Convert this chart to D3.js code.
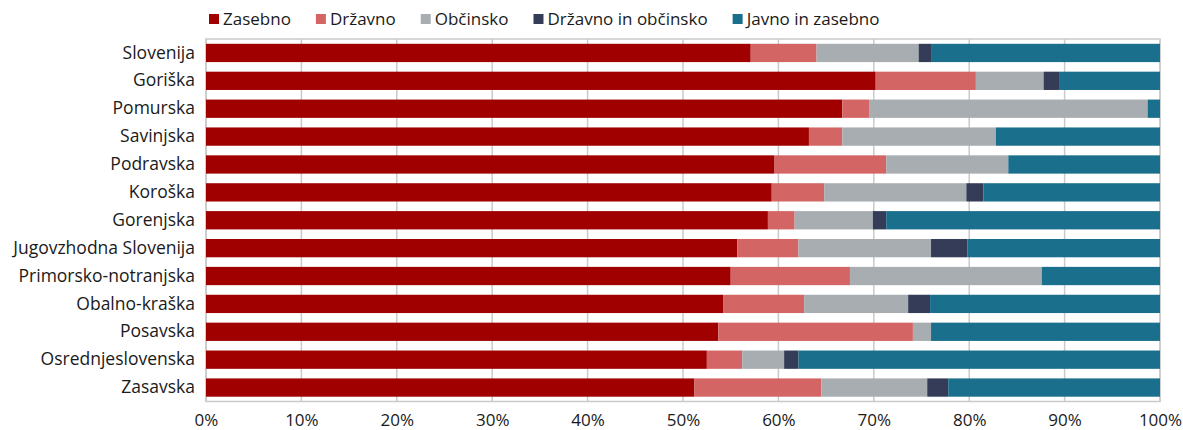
<!DOCTYPE html>
<html><head><meta charset="utf-8">
<script src="https://cdn.jsdelivr.net/npm/d3@7"></script>
<style>body{margin:0;background:#fff}svg{display:block}text{font-family:"Open Sans",sans-serif;fill:#1a1a1a}</style>
</head><body><svg id="c" width="1183" height="430"></svg>
<script>
const categories = ["Slovenija","Goriška","Pomurska","Savinjska","Podravska","Koroška","Gorenjska","Jugovzhodna Slovenija","Primorsko-notranjska","Obalno-kraška","Posavska","Osrednjeslovenska","Zasavska"];
const seriesNames = ["Zasebno","Državno","Občinsko","Državno in občinsko","Javno in zasebno"];
const zasebno =          [57.1,70.2,66.7,63.2,59.6,59.3,58.9,55.7,55.0,54.2,53.7,52.5,51.2];
const drzavno =          [6.9,10.5,2.8,3.5,11.7,5.5,2.8,6.4,12.5,8.5,20.4,3.7,13.3];
const obcinsko =         [10.7,7.1,29.2,16.1,12.8,14.9,8.2,13.9,20.1,10.9,1.9,4.4,11.1];
const drzavnoObcinsko =  [1.3,1.7,0,0,0,1.8,1.4,3.8,0,2.3,0,1.5,2.2];
const javnoZasebno =     [24.0,10.5,1.3,17.2,15.9,18.5,28.7,20.2,12.4,24.1,24.0,37.9,22.2];
const tickValues = [0,10,20,30,40,50,60,70,80,90,100];
const colors = ["#a00000","#d46565","#a8adb2","#343c57","#1a6f8c"];

const seriesValues = [zasebno, drzavno, obcinsko, drzavnoObcinsko, javnoZasebno];
const rows = categories.map((c,i)=>{const o={cat:c}; seriesNames.forEach((s,j)=>o[s]=seriesValues[j][i]); return o;});
const stack = d3.stack().keys(seriesNames)(rows);

const svg = d3.select("#c");
const L=206, R=1160, T=39, B=401.5;
const x = d3.scaleLinear().domain([0,100]).range([L,R]);
const y = d3.scaleBand().domain(categories).range([T,B]).paddingInner(0.344).paddingOuter(0.172);

svg.append("g").selectAll("line").data(tickValues).join("line")
  .attr("x1",d=>x(d)).attr("x2",d=>x(d)).attr("y1",T).attr("y2",B)
  .attr("stroke","#cacaca").attr("stroke-width",1.5);
svg.append("rect").attr("x",L).attr("y",T).attr("width",R-L).attr("height",B-T)
  .attr("fill","none").attr("stroke","#cacaca").attr("stroke-width",1.5);

svg.append("g").selectAll("g").data(stack).join("g").attr("fill",(d,i)=>colors[i])
  .selectAll("rect").data(d=>d).join("rect")
  .attr("x",d=>x(d[0])).attr("width",d=>Math.max(0,x(d[1])-x(d[0])))
  .attr("y",d=>y(d.data.cat)).attr("height",y.bandwidth());

const ya = svg.append("g").attr("transform",`translate(${L},0)`).call(d3.axisLeft(y).tickSize(0).tickPadding(11));
ya.select(".domain").remove();
ya.selectAll("text").style("font-family","'Open Sans',sans-serif").style("font-size","17.5px").attr("fill","#1a1a1a");

const xa = svg.append("g").attr("transform",`translate(0,${B})`).call(d3.axisBottom(x).tickValues(tickValues).tickFormat(d=>d+"%").tickSize(0).tickPadding(12.5));
xa.select(".domain").remove();
xa.selectAll("text").style("font-family","'Open Sans',sans-serif").style("font-size","17px").attr("fill","#1a1a1a");

const lg = svg.append("g");
let lx = 209;
seriesNames.forEach((s,i)=>{
  lg.append("rect").attr("x",lx).attr("y",14).attr("width",10).attr("height",10).attr("fill",colors[i]);
  const t = lg.append("text").attr("x",lx+14).attr("y",19).attr("dy","0.35em").style("font-size","17px").text(s);
  lx += 14 + t.node().getComputedTextLength() + 25;
});
</script></body></html>
